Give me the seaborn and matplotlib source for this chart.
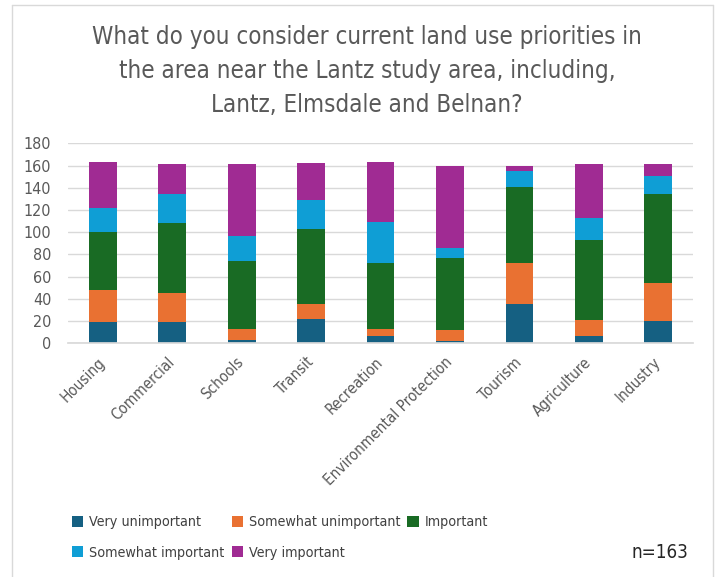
import matplotlib
matplotlib.use("Agg")
import matplotlib.pyplot as plt
from matplotlib import font_manager
from matplotlib.patches import Patch
import seaborn as sns
import numpy as np
import pandas as pd

categories = ["Housing", "Commercial", "Schools", "Transit", "Recreation",
              "Environmental Protection", "Tourism", "Agriculture", "Industry"]
very_unimportant = [19, 19, 3, 22, 7, 2, 35, 7, 20]
somewhat_unimportant = [29, 26, 10, 13, 6, 10, 37, 14, 34]
important = [52, 63, 61, 68, 59, 65, 69, 72, 80]
somewhat_important = [22, 26, 23, 26, 37, 9, 14, 20, 17]
very_important = [41, 27, 64, 33, 54, 74, 5, 48, 10]
series_names = ["Very unimportant", "Somewhat unimportant", "Important",
                "Somewhat important", "Very important"]
colors = ["#156082", "#E97132", "#196B24", "#0F9ED5", "#A02B93"]
title = ("What do you consider current land use priorities in\n"
         "the area near the Lantz study area, including,\n"
         "Lantz, Elmsdale and Belnan?")
note = "n=163"

sns.set_theme(style="white")
entries = font_manager.fontManager.ttflist
condensed = [f for f in entries if f.name == "DejaVu Sans" and "Condensed" in f.fname]
if condensed:
    plt.rcParams["font.family"] = ["DejaVu Sans"]
    plt.rcParams["font.stretch"] = "condensed"
    FONT_OK = True
else:
    plt.rcParams["font.family"] = ["Liberation Sans", "DejaVu Sans"]
    FONT_OK = False

data = [very_unimportant, somewhat_unimportant, important, somewhat_important, very_important]

fig = plt.figure(figsize=(7.17, 5.77), dpi=100)
ax = fig.add_axes([68 / 717, 1 - 343.3 / 577, 625 / 717, 200 / 577])

bottom = np.zeros(len(categories))
for name, vals, col in zip(series_names, data, colors):
    sns.barplot(x=categories, y=vals, bottom=bottom, color=col, width=0.4,
                ax=ax, saturation=1, label=name, linewidth=0)
    bottom = bottom + np.array(vals)

ax.set_ylim(0, 180)
ax.set_yticks(range(0, 181, 20))
ax.yaxis.grid(True, color="#D9D9D9", linewidth=1)
ax.set_axisbelow(True)
for s in ["top", "right", "left"]:
    ax.spines[s].set_visible(False)
ax.spines["bottom"].set_color("#D9D9D9")
ax.tick_params(axis="y", labelsize=11.5, labelcolor="#595959", length=0, pad=12)
ax.tick_params(axis="x", labelsize=11, labelcolor="#595959", length=0, pad=12)
ax.set_xticks(range(len(categories)))
ax.set_xticklabels(categories, rotation=45, ha="right", va="center",
                   rotation_mode="anchor")
ax.set_xlabel("")
ax.set_ylabel("")
ax.set_xlim(-0.5, len(categories) - 0.5)
if ax.get_legend():
    ax.get_legend().remove()

fig.text(367 / 717, 1 - 71 / 577, title, ha="center", va="center",
         fontsize=17.3 if FONT_OK else 17, color="#595959", linespacing=1.55)

order = [0, 3, 1, 4, 2]
handles = [Patch(facecolor=colors[i], edgecolor="none") for i in order]
labels = [series_names[i] for i in order]
fig.legend(handles, labels, ncol=3, loc="center left",
           bbox_to_anchor=(72 / 717, 1 - 537.5 / 577), frameon=False,
           borderpad=0, borderaxespad=0,
           fontsize=10.3, labelcolor="#404040", handlelength=0.8,
           handleheight=0.8, handletextpad=0.4, columnspacing=0.5,
           labelspacing=1.15)

fig.text(688 / 717, 1 - 553 / 577, note, ha="right", va="center",
         fontsize=13.5, color="#262626")

for xs, ys in [([12, 12], [5, 577]), ([12, 713], [5, 5]), ([713, 713], [5, 577])]:
    fig.add_artist(plt.Line2D([x / 717 for x in xs], [1 - y / 577 for y in ys],
                              color="#D9D9D9", linewidth=1))

fig.savefig("out.png", dpi=100)
